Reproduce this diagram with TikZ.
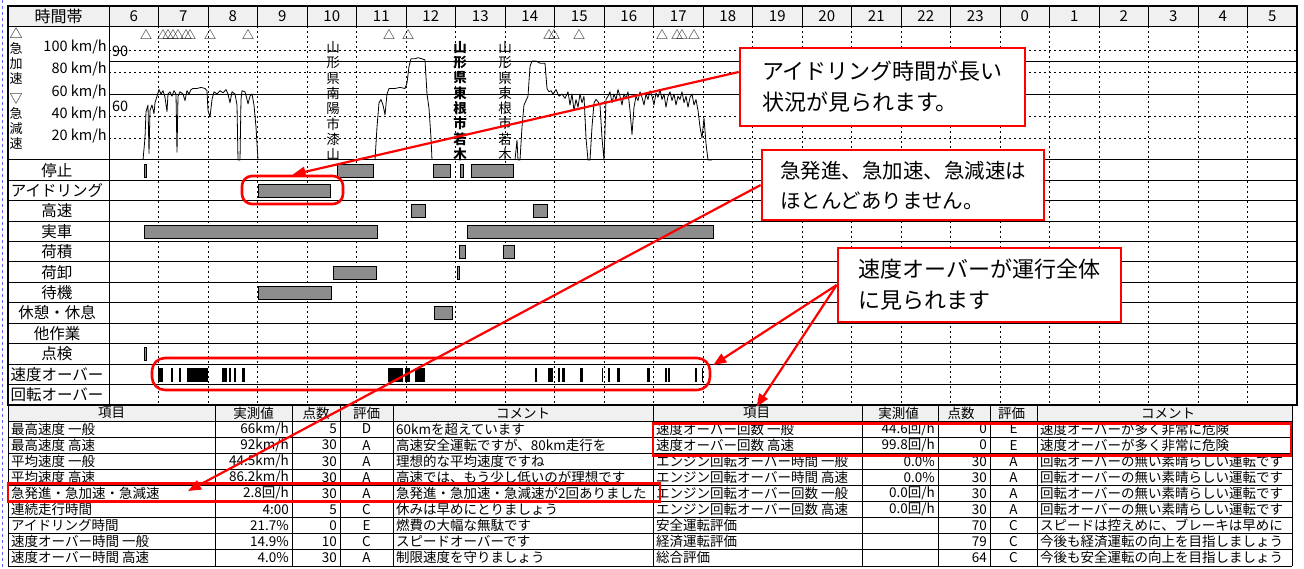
\documentclass[tikz,border=0pt]{standalone}
\usepackage{fontspec}
\setmainfont{Noto Sans CJK JP}
\usetikzlibrary{arrows.meta,calc,positioning}

\tikzset{
	frame line/.style = {draw, line width=1.2pt},
	row line/.style = {line width=1pt},
	thin line/.style = {line width=0.8pt},
	grid line/.style = {line width=0.7pt, dash pattern=on 2pt off 3pt},
	head cell/.style = 
	{
		draw, fill=gray!12, inner sep=0pt, minimum height=20pt,
		font=\fontsize{16}{16}\selectfont
	},
	hour cell/.style = {head cell, minimum width=49.5pt, font=\fontsize{15}{15}\selectfont},
	row label/.style = {inner sep=0pt, font=\fontsize{15.5}{15.5}\selectfont},
	axis label/.style = {inner sep=0pt, anchor=east, font=\fontsize{14.5}{14.5}\selectfont},
	stack label/.style = {inner sep=0pt, align=center, font=\fontsize{13}{15}\selectfont},
	place label/.style = {inner sep=0pt, align=center, font=\fontsize{13.5}{15.3}\selectfont},
	accel mark/.style = {inner sep=0pt, font=\fontsize{12}{12}\selectfont},
	speed trace/.style = {line width=0.8pt, line join=round},
	act bar/.style = {draw=black, line width=0.7pt, fill=black!45},
	over bar/.style = {fill=black},
	cell left/.style = {inner sep=0pt, anchor=west, font=\fontsize{13.5}{13.5}\selectfont},
	cell right/.style = {inner sep=0pt, anchor=east, font=\fontsize{13.5}{13.5}\selectfont},
	cell mid/.style = {inner sep=0pt, font=\fontsize{13.5}{13.5}\selectfont},
	mark box/.style = {draw=red, line width=2.6pt, inner sep=0pt},
	note box/.style = 
	{
		draw=red, line width=2.6pt, fill=white, align=left, inner sep=0pt
	},
	note arrow/.style = {draw=red, line width=2.2pt, -{Triangle[length=13pt,width=10pt]}}
}

\begin{document}
\begin{tikzpicture}[x=1pt, y=-1pt]
    \useasboundingbox (0,0) rectangle (1304,569);
    \draw[blue!60, dashed, line width=0.8pt] (2,0) -- (2,569);

    % Header
    \node[head cell, minimum width=101pt] (period) at (58.5,16) {時間帯};
    \foreach \h [count=\k from 0] in {6,7,8,9,10,11,12,13,14,15,16,17,18,19,20,21,22,23,0,1,2,3,4,5}
        \node[hour cell] (hour\k) at ({133.75+49.5*\k},16) {\h};

    % Grid
    \foreach \k in {1,...,23}
        \draw[grid line] ({109+49.5*\k},26) -- ({109+49.5*\k},405);
    \foreach \yy in {50,72,116,138}
        \draw[grid line] (109,\yy) -- (1297,\yy);
    \foreach \yy in {61,94}
        \draw[thin line] (109,\yy) -- (1297,\yy);
    \foreach \r in {0,...,12}
        \draw[row line] (8,{160+20.4*\r}) -- (1297,{160+20.4*\r});
    \draw[row line] (109,6) -- (109,405);
    \draw[frame line] (8,6) rectangle (1297,405);

    % Speed axis
    \node[stack label] (accel) at (16,56) {△\\急\\加\\速};
    \node[stack label] (decel) at (16,122) {▽\\急\\減\\速};
    \node[axis label] (v100) at (107,47) {100 km/h};
    \node[axis label] (v80) at (107,69) {80 km/h};
    \node[axis label] (v60) at (107,92) {60 km/h};
    \node[axis label] (v40) at (107,114) {40 km/h};
    \node[axis label] (v20) at (107,136) {20 km/h};
    \node[axis label, anchor=west] (lim90) at (112,51) {90};
    \node[axis label, anchor=west] (lim60) at (112,106) {60};

    % Sudden start / stop marks
    \foreach \xx in {146,163,168,173,178,186,190,210,248,389,408,549,554,579,662,677,682,694}
        \node[accel mark] at (\xx,35) {△};

    % Place names
    \node[place label] (placeA) at (333,101) {山\\形\\県\\南\\陽\\市\\漆\\山};
    \node[place label, font=\fontsize{13.5}{15.3}\selectfont\bfseries] (placeB) at (460,101) {山\\形\\県\\東\\根\\市\\若\\木};
    \node[place label] (placeC) at (505,101) {山\\形\\県\\東\\根\\市\\若\\木};

    % Speed trace
    \begin{scope}[shift={(0,160)}, y=1.1pt]
        \draw[speed trace] plot coordinates {(143,0) (145,20) (146,44) (148,50) (149,6) (150,45)
            (152,50) (154,42) (155,52) (157,58) (159,64) (161,60) (163,63) (165,57) (167,44) (168,60)
            (170,62) (172,58) (174,63) (176,60) (177,7) (178,58) (180,62) (183,60) (185,54) (187,63)
            (189,60) (191,64) (193,65) (197,65) (201,66) (205,65) (207,63) (208,45) (210,39) (212,55)
            (214,62) (217,60) (220,63) (223,61) (226,64) (228,60) (230,52) (232,62) (235,60) (237,50)
            (238,0) (240,0) (241,55) (242,63) (245,62) (247,55) (248,51) (250,58) (252,60) (254,50)
            (256,30) (258,0)};
        \draw[speed trace] plot coordinates {(375,0) (377,30) (379,52) (381,55) (383,50) (385,41)
            (387,60) (389,65) (395,65) (400,66) (405,65) (407,70) (409,85) (411,92) (415,92) (418,93)
            (422,92) (425,91) (427,60) (429,47) (431,20) (432,0)};
        \draw[speed trace] plot coordinates {(515,0) (517,18) (518,0) (520,0) (522,30) (524,50)
            (526,54) (528,58) (530,85) (532,90) (536,90) (540,88) (545,88) (547,65) (549,62) (551,63)
            (553,60) (556,64) (559,58) (562,60) (565,56) (568,62) (570,50) (572,60) (574,45) (576,55)
            (578,48) (580,60) (582,52) (584,58) (586,20) (588,0) (590,0) (592,30) (594,52) (596,55)
            (598,53) (600,50) (602,20) (604,0) (606,55) (608,58) (610,62) (612,52) (614,60) (616,55)
            (618,64) (620,58) (622,50) (624,60) (626,56) (628,62) (630,45) (632,23) (634,48) (636,58)
            (638,54) (640,62) (642,57) (644,50) (646,60) (648,55) (650,63) (652,58) (654,50) (656,61)
            (658,57) (660,64) (662,55) (664,60) (666,48) (668,58) (670,62) (672,54) (674,60) (676,50)
            (678,58) (680,55) (682,62) (684,52) (686,58) (688,48) (690,57) (692,60) (694,50) (696,55)
            (698,45) (700,30) (702,20) (704,38) (706,15) (708,0) (712,0)};
    \end{scope}

    % Row labels
    \foreach \lab [count=\r from 0] in {停止,アイドリング,高速,実車,荷積,荷卸,待機,休憩・休息,他作業,点検,速度オーバー,回転オーバー}
        \node[row label] (row\r) at (57,{170.2+20.4*\r}) {\lab};

    % Activity bars
    \foreach \r/\a/\b in {0/144/146, 0/337/373, 0/433/450, 0/460/463, 0/471/513, 1/258/330,
        2/411/425, 2/533/547, 3/144/377, 3/467/713, 4/459/465, 4/503/514, 5/333/376, 5/457/459,
        6/258/331, 7/434/452, 9/144/146}
        \draw[act bar] (\a,{164+20.4*\r}) rectangle (\b,{177+20.4*\r});
    \foreach \a/\b in {158/163, 171/173, 179/181, 187/208, 222/227, 229/231, 234/236, 242/245,
        388/403, 405/410, 415/425, 535/537, 548/553, 558/560, 562/565, 580/583, 602/603, 608/610,
        617/620, 647/650, 665/667, 668/670, 695/697, 702/703}
        \fill[over bar] (\a,368) rectangle (\b,382);

    % Tables
    \fill[gray!12] (8,405) rectangle (1292,421);
    \foreach \i in {0,...,10}
        \draw[thin line] (8,{404.9+16.1*(\i>0)+16.1*(\i-1)*(\i>0)}) -- (1292,{404.9+16.1*(\i>0)+16.1*(\i-1)*(\i>0)});
    \foreach \xx in {8,215,292,340,393,653,862,938,990,1037,1292}
        \draw[thin line] (\xx,405) -- (\xx,566);
    \foreach \off/\side in {0/l,645/r}
    {
        \node[cell mid] (\side Head1) at ({111.5+\off*1.0},413) {項目};
        \node[cell mid] (\side Head2) at ({253.5+\off*1.0},413) {実測値};
        \node[cell mid] (\side Head3) at ({316+\off*1.0},413) {点数};
        \node[cell mid] (\side Head4) at ({366.5+\off*1.0},413) {評価};
        \node[cell mid] (\side Head5) at ({523+\off*1.0},413) {コメント};
    }
    \foreach \nm/\va/\ps/\ev/\cmt [count=\r] in {
        {最高速度 一般}/{66km/h}/5/D/{60kmを超えています},
        {最高速度 高速}/{92km/h}/30/A/{高速安全運転ですが、80km走行を},
        {平均速度 一般}/{44.5km/h}/30/A/{理想的な平均速度ですね},
        {平均速度 高速}/{86.2km/h}/30/A/{高速では、もう少し低いのが理想です},
        {急発進・急加速・急減速}/{2.8回/h}/30/A/{急発進・急加速・急減速が2回ありました},
        {連続走行時間}/{4:00}/5/C/{休みは早めにとりましょう},
        {アイドリング時間}/{21.7\%}/0/E/{燃費の大幅な無駄です},
        {速度オーバー時間 一般}/{14.9\%}/10/C/{スピードオーバーです},
        {速度オーバー時間 高速}/{4.0\%}/30/A/{制限速度を守りましょう}}
    {
        \node[cell left] (lItem\r) at (11,{412.95+16.1*\r}) {\nm};
        \node[cell right] (lVal\r) at (289,{412.95+16.1*\r}) {\va};
        \node[cell right] (lPts\r) at (337,{412.95+16.1*\r}) {\ps};
        \node[cell mid] (lEval\r) at (366.5,{412.95+16.1*\r}) {\ev};
        \node[cell left] (lCmt\r) at (396,{412.95+16.1*\r}) {\cmt};
    }
    \foreach \nm/\va/\ps/\ev/\cmt [count=\r] in {
        {速度オーバー回数 一般}/{44.6回/h}/0/E/{速度オーバーが多く非常に危険},
        {速度オーバー回数 高速}/{99.8回/h}/0/E/{速度オーバーが多く非常に危険},
        {エンジン回転オーバー時間 一般}/{0.0\%}/30/A/{回転オーバーの無い素晴らしい運転です},
        {エンジン回転オーバー時間 高速}/{0.0\%}/30/A/{回転オーバーの無い素晴らしい運転です},
        {エンジン回転オーバー回数 一般}/{0.0回/h}/30/A/{回転オーバーの無い素晴らしい運転です},
        {エンジン回転オーバー回数 高速}/{0.0回/h}/30/A/{回転オーバーの無い素晴らしい運転です},
        {安全運転評価}/{}/70/C/{スピードは控えめに、ブレーキは早めに},
        {経済運転評価}/{}/79/C/{今後も経済運転の向上を目指しましょう},
        {総合評価}/{}/64/C/{今後も安全運転の向上を目指しましょう}}
    {
        \node[cell left] (rItem\r) at (656,{412.95+16.1*\r}) {\nm};
        \node[cell right] (rVal\r) at (935,{412.95+16.1*\r}) {\va};
        \node[cell right] (rPts\r) at (987,{412.95+16.1*\r}) {\ps};
        \node[cell mid] (rEval\r) at (1013.5,{412.95+16.1*\r}) {\ev};
        \node[cell left] (rCmt\r) at (1040,{412.95+16.1*\r}) {\cmt};
    }

    % Highlights
    \node[mark box, rounded corners=10pt, minimum width=101pt, minimum height=28pt] (idleMark) at (292.5,190) {};
    \node[mark box, rounded corners=13pt, minimum width=558pt, minimum height=32pt] (overMark) at (431,374) {};
    \node[mark box, minimum width=652pt, minimum height=18pt] (jerkMark) at (334,492.5) {};
    \node[mark box, minimum width=638pt, minimum height=32pt] (countMark) at (972,439.5) {};
    \coordinate (jerkTip) at (188,491);

    % Notes
    \node[note box, minimum width=285pt, minimum height=78pt, font=\fontsize{22}{31}\selectfont] (idleNote) at (882.5,87) {アイドリング時間が長い\\状況が見られます。};
    \node[note box, minimum width=282pt, minimum height=70pt, font=\fontsize{20.5}{30}\selectfont] (jerkNote) at (903,185) {急発進、急加速、急減速は\\ほとんどありません。};
    \node[note box, minimum width=283pt, minimum height=74pt, font=\fontsize{22}{31}\selectfont] (overNote) at (979.5,285) {速度オーバーが運行全体\\に見られます};

    % Arrows
    \draw[note arrow] ($(idleNote.west)+(0,-15)$) -- (idleMark.north);
    \draw[note arrow] (jerkNote.west) -- (jerkTip);
    \draw[note arrow] (overNote.west) -- ($(overMark.east)+(2,-9)$);
    \draw[note arrow] (overNote.west) -- (rHead1.north);
\end{tikzpicture}
\end{document}
